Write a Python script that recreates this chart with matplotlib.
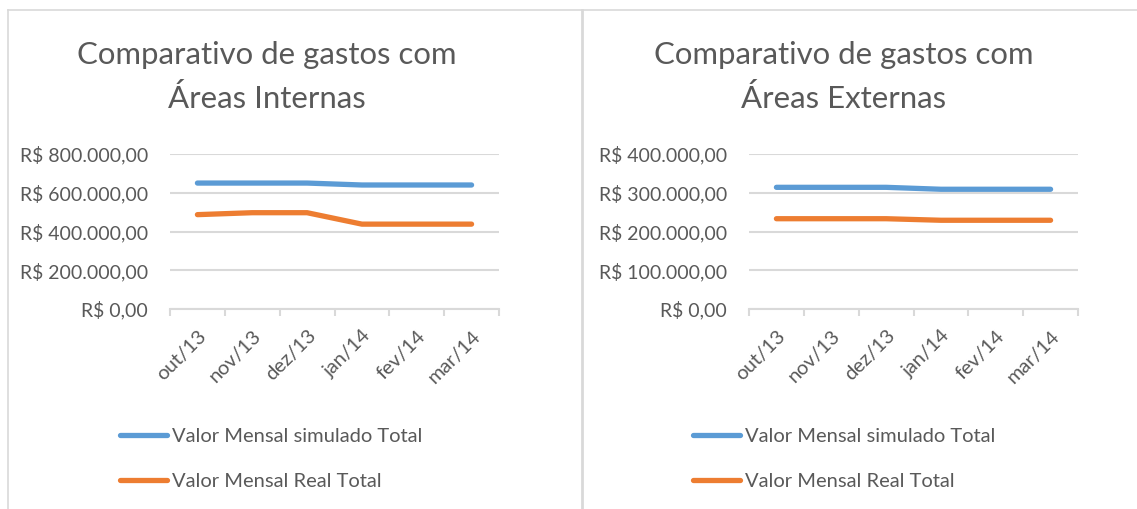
import matplotlib
matplotlib.use("Agg")
from matplotlib import pyplot as plt
from matplotlib.lines import Line2D
from matplotlib.ticker import FuncFormatter
from matplotlib.transforms import ScaledTranslation

meses = ["out/13", "nov/13", "dez/13", "jan/14", "fev/14", "mar/14"]

int_simulado = [650000, 650000, 650000, 640000, 640000, 640000]
int_real = [487000, 497000, 497000, 438000, 438000, 438000]
int_ticks = [0, 200000, 400000, 600000, 800000]

ext_simulado = [314000, 314000, 314000, 309000, 309000, 309000]
ext_real = [233000, 233000, 233000, 229000, 229000, 229000]
ext_ticks = [0, 100000, 200000, 300000, 400000]

AZUL = "#5b9bd5"
LARANJA = "#ed7d31"
CINZA_TXT = "#595959"
CINZA_GRADE = "#d9d9d9"
FONTE = "Lato"

W, H = 1137, 509
plt.rcParams["font.family"] = [FONTE, "DejaVu Sans"]


def reais(v, pos=None):
    s = f"{v:,.2f}"  # 800,000.00
    s = s.replace(",", "X").replace(".", ",").replace("X", ".")
    return "R$ " + s


def grafico(fig, left_px, titulo, cx_px, simulado, real, ticks, leg_x_px):
    ax = fig.add_axes([left_px / W, 1 - 309 / H, 329 / W, 155 / H])
    x = range(len(meses))
    ax.plot(x, simulado, color=AZUL, lw=3.8, solid_capstyle="round",
            label="Valor Mensal simulado Total", zorder=3)
    ax.plot(x, real, color=LARANJA, lw=3.8, solid_capstyle="round",
            label="Valor Mensal Real Total", zorder=3)
    ax.set_xlim(-0.5, len(meses) - 0.5)
    ax.set_ylim(ticks[0], ticks[-1])
    ax.set_yticks(ticks)
    ax.yaxis.set_major_formatter(FuncFormatter(reais))
    ax.grid(axis="y", color=CINZA_GRADE, lw=1.5)
    ax.set_axisbelow(True)
    for s in ["top", "right", "left"]:
        ax.spines[s].set_visible(False)
    ax.spines["bottom"].set_color(CINZA_GRADE)
    ax.spines["bottom"].set_linewidth(1.5)
    ax.set_xticks(list(x))
    ax.set_xticklabels(meses, rotation=45, ha="right", va="top",
                       rotation_mode="anchor")
    desloc = ScaledTranslation(7 / 100, 0, fig.dpi_scale_trans)
    for t in ax.get_xticklabels():
        t.set_transform(t.get_transform() + desloc)
    ax.set_xticks([i - 0.5 for i in range(len(meses) + 1)], minor=True)
    ax.tick_params(axis="x", which="major", length=0, pad=13,
                   labelsize=14.5, labelcolor=CINZA_TXT)
    ax.tick_params(axis="x", which="minor", length=5, width=1.5,
                   color=CINZA_GRADE)
    ax.tick_params(axis="y", length=0, pad=16, labelsize=14,
                   labelcolor=CINZA_TXT)

    fig.text(cx_px / W, 1 - 41 / H, titulo, ha="center", va="top",
             fontsize=22.4, color=CINZA_TXT, linespacing=1.62)

    h, l = ax.get_legend_handles_labels()
    fig.legend(h, l, loc="upper left",
               bbox_to_anchor=(leg_x_px / W, 1 - 428 / H),
               frameon=False, fontsize=14.5, labelcolor=CINZA_TXT,
               handlelength=2.35, handletextpad=0.25, labelspacing=1.4,
               borderpad=0, borderaxespad=0)
    return ax


fig = plt.figure(figsize=(W / 100, H / 100), dpi=100)

grafico(fig, 170, "Comparativo de gastos com\nÁreas Internas", 267,
        int_simulado, int_real, int_ticks, 120)
grafico(fig, 749, "Comparativo de gastos com\nÁreas Externas", 844,
        ext_simulado, ext_real, ext_ticks, 693)

# molduras dos graficos
fig.add_artist(Line2D([8 / W, 1], [1 - 10 / H, 1 - 10 / H], color=CINZA_GRADE, lw=1.2))
fig.add_artist(Line2D([8 / W, 8 / W], [0, 1 - 10 / H], color=CINZA_GRADE, lw=1.2))
fig.add_artist(Line2D([582 / W, 582 / W], [0, 1 - 10 / H], color=CINZA_GRADE, lw=2))

fig.savefig("out.png", dpi=100)
